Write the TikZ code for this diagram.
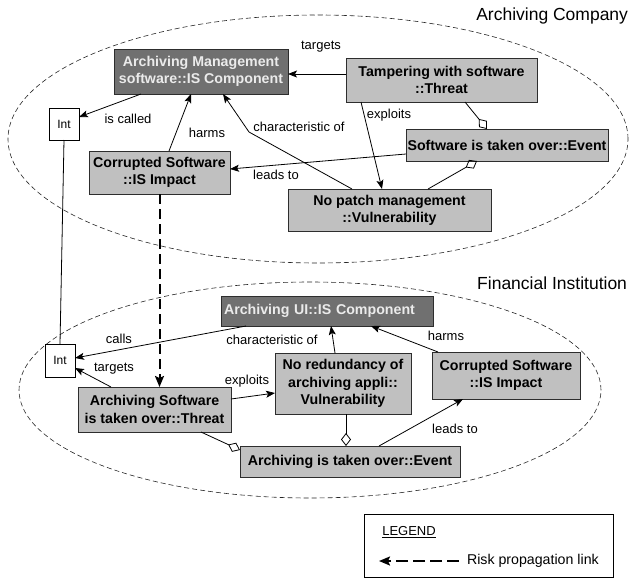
\documentclass[tikz,border=0pt]{standalone}
\usepackage{fontspec}
\setmainfont{Liberation Sans}
\usetikzlibrary{arrows.meta}

\definecolor{boxgray}{RGB}{192,192,192}
\definecolor{compgray}{RGB}{112,112,112}
\definecolor{edgegray}{RGB}{45,45,45}

\begin{document}
\begin{tikzpicture}[x=1pt,y=-1pt,
  every node/.style={inner sep=0pt, outer sep=0pt},
  elem/.style={draw=edgegray, line width=0.9pt, fill=boxgray, align=center,
    font=\fontsize{14.2}{17.3}\selectfont\bfseries},
  comp/.style={elem, fill=compgray, text=white!92!black},
  intf/.style={draw=black, line width=0.8pt, fill=white,
    font=\fontsize{12}{14}\selectfont},
  lbl/.style={font=\fontsize{13}{15}\selectfont},
  zone/.style={draw=black!85, dash pattern=on 5pt off 3pt, line width=0.6pt},
  zonetitle/.style={font=\fontsize{17.5}{20}\selectfont, anchor=east},
  rel/.style={draw=black, line width=0.8pt, -{Stealth[length=9pt,width=7pt,inset=2pt]}},
  part/.style={draw=black, line width=0.8pt, -{Diamond[open,length=13pt,width=10pt]}},
  risk/.style={draw=black, line width=2pt, dash pattern=on 10pt off 5pt,
    -{Stealth[length=11pt,width=9pt,inset=2pt]}}
]
\useasboundingbox (0,0) rectangle (629,579);

% organisation zones
\draw[zone] (318,139) ellipse [x radius=310pt, y radius=124pt];
\draw[zone] (310,390) ellipse [x radius=291pt, y radius=108pt];
\node[zonetitle] (titleA) at (628,16) {Archiving Company};
\node[zonetitle] (titleB) at (627,283) {Financial Institution};

% Archiving Company elements
\node[comp, minimum width=174pt, minimum height=45pt] (ams) at (201,71.5)
  {Archiving Management\\software::IS Component};
\node[elem, minimum width=191pt, minimum height=44pt] (tamp) at (441.5,80)
  {Tampering with software\\::Threat};
\node[intf, minimum width=30pt, minimum height=32pt] (inta) at (64,124) {Int};
\node[elem, minimum width=141pt, minimum height=43pt] (corrA) at (159.5,172.5)
  {Corrupted Software\\::IS Impact};
\node[elem, minimum width=202pt, minimum height=32pt] (eventA) at (507,145)
  {Software is taken over::Event};
\node[elem, minimum width=203pt, minimum height=42pt] (nopatch) at (389.5,210)
  {No patch management\\::Vulnerability};
\coordinate (bendA) at (249,132);

% Financial Institution elements
\node[comp, minimum height=30pt, text width=206pt, inner xsep=3pt, align=left] (ui) at (327,311)
  {Archiving UI::IS Component};
\node[intf, minimum width=30pt, minimum height=33pt] (intb) at (60,360.5) {Int};
\node[elem, minimum width=136pt, minimum height=61pt] (nored) at (343,383.5)
  {No redundancy of\\archiving appli::\\Vulnerability};
\node[elem, minimum width=148pt, minimum height=47pt] (corrB) at (506,375.5)
  {Corrupted Software\\::IS Impact};
\node[elem, minimum width=153pt, minimum height=45pt] (threatB) at (154.5,409.5)
  {Archiving Software\\is taken over::Threat};
\node[elem, minimum width=220pt, minimum height=31pt] (eventB) at (350,461.5)
  {Archiving is taken over::Event};

% relations inside Archiving Company
\draw[rel] ([yshift=6pt]tamp.west) -- ([yshift=6pt]tamp.west -| ams.east);
\draw[rel] ([xshift=27pt]ams.south west) -- ([yshift=7pt]inta.east);
\draw[rel] ([xshift=9.5pt]corrA.north) -- ([xshift=-10pt]ams.south);
\draw[rel] ([xshift=-37.5pt]nopatch.north) -- (bendA) -- ([xshift=22pt]ams.south);
\draw[rel] ([xshift=-80.5pt]tamp.south) -- ([xshift=-7.5pt]nopatch.north);
\draw[part] ([xshift=23.5pt]tamp.south) -- ([xshift=-20pt]eventA.north);
\draw[part] ([xshift=38.5pt]nopatch.north) -- ([xshift=-30pt]eventA.south);
\draw[rel] ([yshift=-9pt]eventA.west) -- ([yshift=3.5pt]corrA.east);

\node[lbl] (lTargetsA) at (321,47) {targets};
\node[lbl] (lCalledA) at (128,119) {is called};
\node[lbl] (lHarmsA) at (207,133) {harms};
\node[lbl] (lCharA) at (299,127) {characteristic of};
\node[lbl] (lExploitsA) at (389,115) {exploits};
\node[lbl] (lLeadsA) at (276,175) {leads to};

% links between the two organisations
\draw[draw=black, line width=0.8pt] (inta.south) -- (intb.north);
\draw[risk] (corrA.south) -- (corrA.south |- threatB.north);

% relations inside Financial Institution
\draw[rel] ([xshift=-81pt]ui.south) -- ([yshift=2.5pt]intb.east);
\draw[rel] ([xshift=-43.5pt]threatB.north) -- ([yshift=-7.5pt]intb.east);
\draw[rel] ([xshift=-8pt]nored.north) -- ([xshift=4pt]ui.south);
\draw[rel] ([xshift=-68pt]corrB.north) -- ([xshift=44pt]ui.south);
\draw[rel] ([yshift=10.5pt]threatB.east) -- ([yshift=-9.5pt]nored.west);
\draw[part] ([xshift=46.5pt]threatB.south) -- ([yshift=-4pt]eventB.north west);
\draw[part] ([xshift=3pt]nored.south) -- ([xshift=3pt]nored.south |- eventB.north);
\draw[rel] ([xshift=29pt]eventB.north) -- ([xshift=-43pt]corrB.south);

\node[lbl] (lCallsB) at (119,339) {calls};
\node[lbl] (lTargetsB) at (114,369) {targets};
\node[lbl] (lCharB) at (272,340) {characteristic of};
\node[lbl] (lHarmsB) at (446,336) {harms};
\node[lbl] (lExploitsB) at (247,381) {exploits};
\node[lbl] (lLeadsB) at (455,429) {leads to};

% legend
\node[draw=black, line width=0.8pt, minimum width=249pt, minimum height=63pt] (legend) at (488.5,545.5) {};
\node[lbl] (legTitle) at (409,532) {\underline{LEGEND}};
\coordinate (legFrom) at (459,561);
\coordinate (legTo) at (379,561);
\draw[draw=black, line width=2pt, dash pattern=on 12pt off 5pt,
  -{Stealth[length=11pt,width=9pt,inset=2pt]}] (legFrom) -- (legTo);
\node[lbl, anchor=west, font=\fontsize{14.2}{16}\selectfont] (legText) at (467,561) {Risk propagation link};
\end{tikzpicture}
\end{document}
